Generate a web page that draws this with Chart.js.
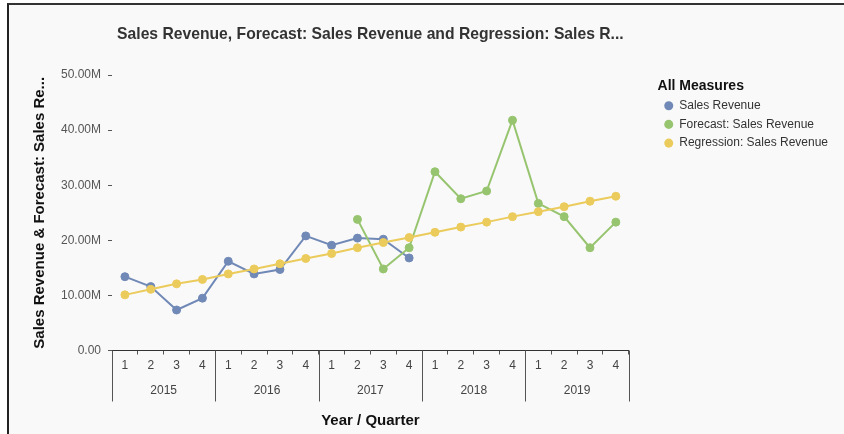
<!DOCTYPE html>
<html>
<head>
<meta charset="utf-8">
<title>Sales Revenue</title>
<script src="https://cdn.jsdelivr.net/npm/chart.js"></script>
<style>
  html, body { margin: 0; padding: 0; background: #fff; }
  #frame { position: absolute; left: 7px; top: 3px; width: 837px; height: 431px; box-sizing: border-box;
           border-left: 2px solid #222; border-top: 2px solid #333; background: #f9f9f9; }
  #ChartSales { position: absolute; left: 0; top: 0; }
</style>
</head>
<body>
<div id="frame"></div>
<canvas id="ChartSales" width="844" height="434"></canvas>
<script>
// values in millions
var quarters = ['1', '2', '3', '4', '1', '2', '3', '4', '1', '2', '3', '4', '1', '2', '3', '4', '1', '2', '3', '4'];
var years = ['2015', '2016', '2017', '2018', '2019'];
var salesRevenue = [13.4, 11.6, 7.35, 9.5, 16.2, 13.9, 14.7, 20.8, 19.1, 20.4, 20.2, 16.8,
                    null, null, null, null, null, null, null, null];
var forecast = [null, null, null, null, null, null, null, null, null, 23.8, 14.8, 18.65,
                32.45, 27.55, 28.95, 41.8, 26.7, 24.3, 18.65, 23.3];
var regression = [10.1, 11.1, 12.1, 12.9, 13.9, 14.8, 15.75, 16.7, 17.6, 18.65,
                  19.6, 20.5, 21.45, 22.4, 23.3, 24.3, 25.2, 26.1, 27.1, 28.0];
var yTicks = [0, 10, 20, 30, 40, 50];

Chart.defaults.font.family = "'Liberation Sans', Arial, sans-serif";

// long lines between the years under the axis
var yearLines = {
  id: 'yearLines',
  afterDraw: function(chart) {
    var x = chart.scales.x;
    var ctx = chart.ctx;
    var perYear = quarters.length / years.length;
    var yEnd = x.top + 51;
    ctx.save();
    ctx.strokeStyle = '#555';
    ctx.lineWidth = 1;
    ctx.beginPath();
    for (var k = 0; k <= years.length; k++) {
      var i = k * perYear;
      var px;
      if (i === 0) px = x.left;
      else if (i >= quarters.length) px = x.right;
      else px = (x.getPixelForValue(i - 1) + x.getPixelForValue(i)) / 2;
      px = Math.round(px) + 0.5;
      ctx.moveTo(px, x.top);
      ctx.lineTo(px, yEnd);
    }
    ctx.stroke();
    ctx.restore();
  }
};

document.addEventListener('DOMContentLoaded', function() {

  var chartdata = {
    labels: quarters,
    datasets: [
      {
        label: 'Sales Revenue',
        data: salesRevenue,
        borderColor: '#7189b6',
        backgroundColor: '#7189b6',
        pointBackgroundColor: '#7189b6',
        order: 3
      },
      {
        label: 'Forecast: Sales Revenue',
        data: forecast,
        borderColor: '#97c46f',
        backgroundColor: '#97c46f',
        pointBackgroundColor: '#97c46f',
        order: 2
      },
      {
        label: 'Regression: Sales Revenue',
        data: regression,
        borderColor: '#ebcb5b',
        backgroundColor: '#ebcb5b',
        pointBackgroundColor: '#ebcb5b',
        order: 1
      }
    ]
  };
  chartdata.datasets.forEach(function(ds) {
    ds.xAxisID = 'x';
    ds.yAxisID = 'y';
    ds.borderWidth = 2;
    ds.pointRadius = 4;
    ds.pointBorderWidth = 1;
    ds.pointBorderColor = ds.borderColor;
    ds.tension = 0;
    ds.fill = false;
  });

  var ctx = document.getElementById('ChartSales').getContext('2d');
  var lineGraph = new Chart(ctx, {
    type: 'line',
    data: chartdata,
    plugins: [yearLines],
    options: {
      responsive: false,
      animation: false,
      layout: { padding: { left: 10, right: 6, top: 0, bottom: 2 } },
      plugins: {
        title: {
          display: true,
          text: 'Sales Revenue, Forecast: Sales Revenue and Regression: Sales R...',
          fullSize: false,
          color: '#333',
          font: { size: 15.7, weight: 'bold' },
          padding: { top: 25.6, bottom: 30.6 }
        },
        legend: {
          position: 'right',
          align: 'start',
          maxWidth: 240,
          title: {
            display: true,
            text: 'All Measures',
            position: 'start',
            color: '#111',
            font: { size: 14, weight: 'bold', lineHeight: 1 },
            padding: { top: 79, bottom: 0 }
          },
          labels: {
            color: '#333',
            font: { size: 12 },
            usePointStyle: true,
            pointStyle: 'circle',
            boxHeight: 6.4,
            pointStyleWidth: 9,
            padding: 6.7,
            sort: function(a, b) { return a.datasetIndex - b.datasetIndex; },
            generateLabels: function(chart) {
              var items = Chart.defaults.plugins.legend.labels.generateLabels(chart);
              items.forEach(function(it) { it.lineWidth = 0; });
              return items;
            }
          }
        },
        tooltip: { enabled: false }
      },
      scales: {
        x: {
          offset: true,
          ticks: { color: '#444', font: { size: 12 }, padding: 4, maxRotation: 0, autoSkip: false },
          grid: { display: true, offset: true, drawOnChartArea: false, tickLength: 4, color: '#555' },
          border: { display: true, color: '#333' }
        },
        x2: {
          type: 'category',
          labels: years,
          position: 'bottom',
          offset: true,
          grid: { display: false, drawTicks: false },
          border: { display: false },
          ticks: { color: '#444', font: { size: 12 }, padding: 6.9, maxRotation: 0 },
          title: {
            display: true,
            text: 'Year / Quarter',
            color: '#111',
            font: { size: 15, weight: 'bold' },
            padding: { top: 6.9, bottom: 2 }
          }
        },
        y: {
          min: yTicks[0],
          max: yTicks[yTicks.length - 1],
          afterBuildTicks: function(scale) {
            scale.ticks = yTicks.map(function(v) { return { value: v }; });
          },
          ticks: {
            color: '#555',
            font: { size: 12 },
            padding: 7,
            callback: function(v) { return v === 0 ? '0.00' : v.toFixed(2) + 'M'; }
          },
          grid: { display: true, drawOnChartArea: false, drawTicks: true, tickLength: 4, color: '#555' },
          border: { display: false },
          title: {
            display: true,
            text: 'Sales Revenue & Forecast: Sales Re...',
            color: '#111',
            font: { size: 15, weight: 'bold' },
            padding: { top: 21, bottom: 0 }
          },
          afterFit: function(scale) { scale.width = 102; }
        },
        gap: {
          type: 'linear',
          position: 'right',
          grid: { display: false, drawTicks: false },
          border: { display: false },
          ticks: { display: false },
          afterFit: function(scale) { scale.width = 28.8; }
        }
      }
    }
  });
});
</script>
</body>
</html>
